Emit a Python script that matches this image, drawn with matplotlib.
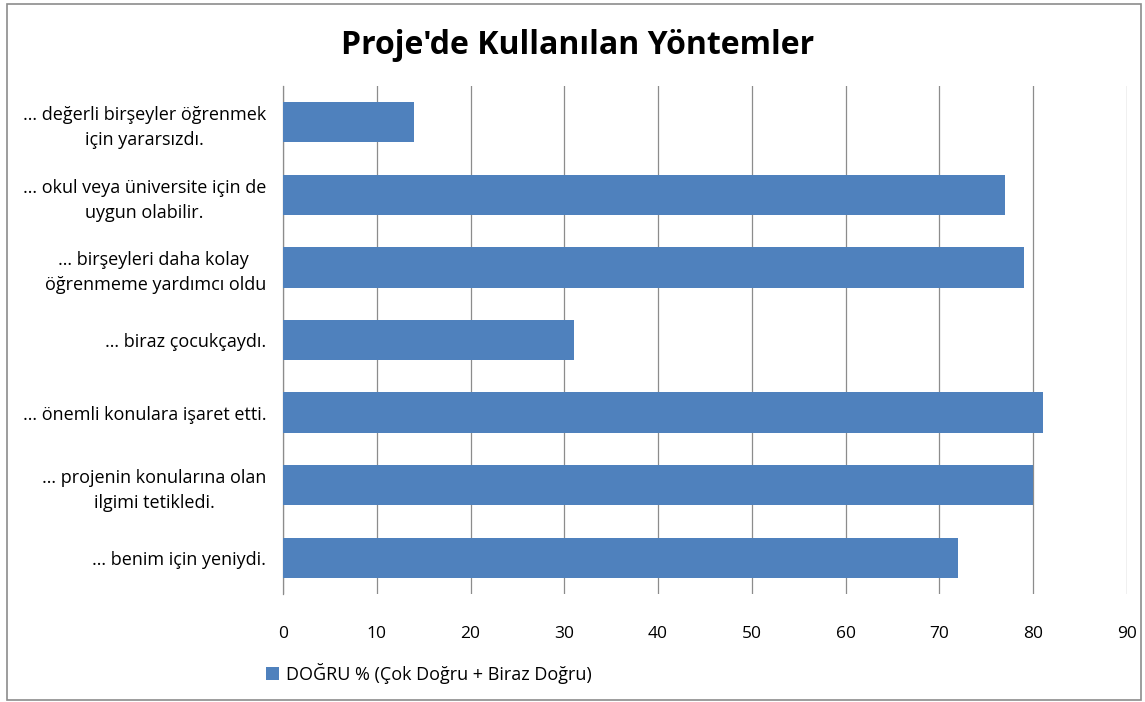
import numpy as np
import matplotlib.pyplot as plt
from matplotlib.patches import Rectangle

# categories, top to bottom as shown
labels = ["… değerli birşeyler öğrenmek\niçin yararsızdı.",
          "… okul veya üniversite için de\nuygun olabilir.",
          "… birşeyleri daha kolay \nöğrenmeme yardımcı oldu",
          "… biraz çocukçaydı.",
          "… önemli konulara işaret etti.",
          "… projenin konularına olan\nilgimi tetikledi.",
          "… benim için yeniydi."]
values = [14, 77, 79, 31, 81, 80, 72]
series_name = "DOĞRU % (Çok Doğru + Biraz Doğru)"
title = "Proje'de Kullanılan Yöntemler"
xticks = np.arange(0, 100, 10)

plt.rcParams['font.family'] = ['Open Sans', 'DejaVu Sans']

W, H = 1145, 702
fig = plt.figure(figsize=(W / 100, H / 100), dpi=100)
ax = fig.add_axes([283 / W, 1 - 594 / H, (1127 - 283) / W, (594 - 86) / H])

y = np.arange(len(values))[::-1]
ax.barh(y, values, height=0.556, color='#4F81BD', zorder=3, label=series_name)
ax.set_ylim(-0.5, len(values) - 0.5)
ax.set_xlim(0, 90)
ax.set_xticks(xticks)
ax.set_xticklabels([str(t) for t in xticks], fontsize=12.5)
ax.set_yticks(y)
ax.set_yticklabels(labels, fontsize=13, linespacing=1.5,
                   multialignment='center')
ax.tick_params(axis='y', length=0, pad=12)
ax.tick_params(axis='x', length=0, pad=23)
ax.grid(axis='x', color='#8c8c8c', linewidth=0.9, zorder=0)
for s in ['top', 'right', 'bottom']:
    ax.spines[s].set_visible(False)
ax.spines['left'].set_color('#8c8c8c')
ax.spines['left'].set_linewidth(0.9)

fig.text(578 / W, 1 - 46 / H, title, ha='center', va='center',
         fontsize=23, fontweight='bold')

fig.legend(loc='center left', bbox_to_anchor=(250 / W, 1 - 673 / H),
           frameon=False, fontsize=13, handlelength=0.7, handleheight=0.7,
           handletextpad=0.4)

fig.patches.append(Rectangle((7 / W, 1 - 700 / H), (1141 - 7) / W, (700 - 4) / H,
                             transform=fig.transFigure, fill=False,
                             edgecolor='#8c8c8c', linewidth=1.2))

fig.savefig('out.png', dpi=100)
